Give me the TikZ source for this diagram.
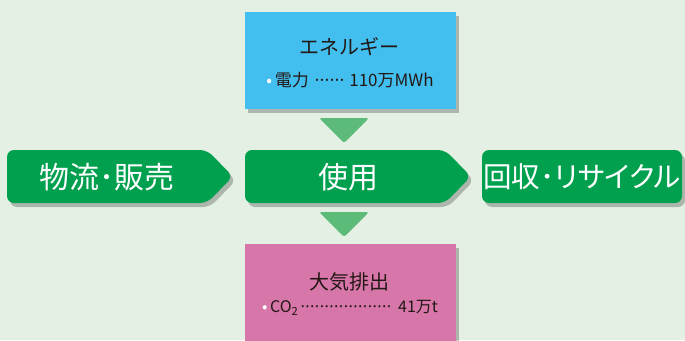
\documentclass[tikz,border=0pt]{standalone}
\usepackage{fontspec}
\setmainfont{Noto Sans CJK JP}
\newfontfamily\propjp[RawFeature={+palt}]{Noto Sans CJK JP}
\usetikzlibrary{shadows}
\definecolor{bg}{HTML}{E3F0E3}
\definecolor{gr}{HTML}{00A04E}
\definecolor{tri}{HTML}{5DBB7A}
\definecolor{bl}{HTML}{42BFEF}
\definecolor{pk}{HTML}{D776A8}
\definecolor{ink}{HTML}{231815}
\newcommand\dotrun[1]{\hbox to #1{\leaders\hbox to 5pt{\hss·\hss}\hfill}}
\begin{document}
\begin{tikzpicture}[x=1pt,y=-1pt,
  shd/.style={drop shadow={shadow xshift=3pt,shadow yshift=-4pt,opacity=0.3,fill=black!80}},
  greenshape/.style={fill=gr,rounded corners=7pt,shd},
  pointer/.style={fill=tri,rounded corners=2.5pt},
  bigtext/.style={text=white,font=\fontsize{30}{30}\selectfont,inner sep=0pt},
  titletext/.style={text=ink,font=\fontsize{20}{20}\selectfont,inner sep=0pt},
  valtext/.style={text=ink,font=\fontsize{16}{16}\selectfont,inner sep=0pt}]
\clip (0,0) rectangle (685,340);
\fill[bg] (0,0) rectangle (685,340);
% boxes
\path[fill=bl,shd] (245,12) rectangle (456,109);
\path[fill=pk,shd] (245,244) rectangle (456,350);
% green arrows
\path[greenshape] (7,176.5) -- (7,150) -- (207,150) -- (233,176.5) -- (207,203) -- (7,203) -- cycle;
\path[greenshape] (245,176.5) -- (245,150) -- (445,150) -- (471,176.5) -- (445,203) -- (245,203) -- cycle;
\path[greenshape] (482,150) rectangle (682,203);
% pointers
\path[pointer] (319,118) -- (369,118) -- (344,143) -- cycle;
\path[pointer] (319,212) -- (369,212) -- (344,237) -- cycle;
% texts
\node[titletext] (entitle) at (349,47) {エネルギー};
\node[valtext] (enval) at (350,80) {\fontsize{17}{17}\selectfont{\color{white}•}\,電力\,\,\dotrun{32pt}\,110万MWh};
\node[titletext] (airtitle) at (349,282) {大気排出};
\node[valtext] (airval) at (350,308) {\hbox to 176pt{{\color{white}•}\,CO\textsubscript{2}\leaders\hbox to 4.8pt{\hss·\hss}\hfill\,41万t}};
\node[bigtext] (logi) at (107,177) {物流･販売};
\node[bigtext] (use) at (348,177) {使用};
\node[bigtext] (recy) at (582,177) {\fontsize{28.5}{28.5}\selectfont\propjp 回収･リサイクル};
\end{tikzpicture}
\end{document}
